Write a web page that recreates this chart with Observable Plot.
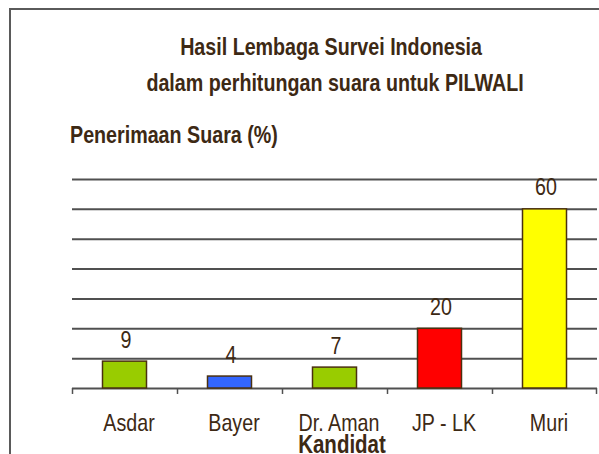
<!DOCTYPE html>
<html>
<head>
<meta charset="utf-8">
<script src="https://cdn.jsdelivr.net/npm/d3@7"></script>
<script src="https://cdn.jsdelivr.net/npm/@observablehq/plot@0.6"></script>
<style>
  body { margin: 0; background: #fff; }
  #wrap { position: relative; width: 599px; height: 454px; overflow: hidden; background: #fff;
          font-family: "Liberation Sans", Arial, sans-serif; color: #3d2914; }
  #frame { position: absolute; left: 9px; top: 8px; width: 700px; height: 600px;
           border-left: 2px solid #5a5a5a; border-top: 2px solid #5a5a5a; }
  .t { position: absolute; white-space: nowrap; line-height: 24px; font-size: 24px; font-weight: bold; }
  .t span { display: inline-block; transform: scaleX(0.82); }
  #ylabel span { transform-origin: left center; }
  #chart { position: absolute; left: 0; top: 150px; }
</style>
</head>
<body>
<div id="wrap">
  <div id="frame"></div>
  <div class="t" id="title1" style="left:0;width:662px;text-align:center;top:35px;"><span>Hasil Lembaga Survei Indonesia</span></div>
  <div class="t" id="title2" style="left:0;width:670px;text-align:center;top:71px;"><span>dalam perhitungan suara untuk PILWALI</span></div>
  <div class="t" id="ylabel" style="left:70px;top:123px;"><span>Penerimaan Suara (%)</span></div>
  <div id="chart"></div>
</div>
<script>
const candidates = ["Asdar", "Bayer", "Dr. Aman", "JP - LK", "Muri"];
const votes = [9, 4, 7, 20, 60];
const barColors = ["#99cc00", "#3366ff", "#99cc00", "#ff0000", "#ffff00"];
const gridTicks = [10, 20, 30, 40, 50, 60, 70];
const xTitle = "Kandidat";

const data = candidates.map((c, i) => ({candidate: c, value: votes[i], color: barColors[i]}));
const textColor = "#3d2914";
const font = '"Liberation Sans", Arial, sans-serif';
const band = (597 - 72) / candidates.length;

const chart = Plot.plot({
  width: 599,
  height: 304,
  marginLeft: 72,
  marginRight: 2,
  marginTop: 29,
  marginBottom: 66,
  style: {fontFamily: font, color: textColor, background: "transparent"},
  x: {domain: candidates, padding: 0, axis: null},
  y: {domain: [0, 70], axis: null},
  marks: [
    Plot.ruleY(gridTicks, {stroke: "#505050", strokeWidth: 2}),
    Plot.ruleY([0], {stroke: "#505050", strokeWidth: 2}),
    Plot.ruleX(candidates, {x: d => d, y1: 0, y2: -2, dx: -band / 2, stroke: "#505050", strokeWidth: 1.5}),
    Plot.ruleX(candidates.slice(-1), {x: d => d, y1: 0, y2: -2, dx: band / 2 - 1, stroke: "#505050", strokeWidth: 1.5}),
    Plot.barY(data, {x: "candidate", y: "value", fill: "color", stroke: "#4a3010", strokeWidth: 1.5,
      insetLeft: 30.5, insetRight: 30.5}),
    Plot.text(data, {x: "candidate", y: "value", text: d => String(d.value), dx: 1, dy: -14, lineAnchor: "bottom",
      fontSize: 24, fill: textColor}),
    Plot.text(data, {x: "candidate", y: 0, text: "candidate", dx: 4, dy: 42, lineAnchor: "bottom",
      fontSize: 24, fill: textColor}),
    Plot.text([xTitle], {frameAnchor: "bottom", text: d => d, dx: 7, dy: 64, lineAnchor: "bottom",
      fontSize: 25, fontWeight: "bold", fill: textColor})
  ]
});

// condense every text horizontally (narrow typeface look of the reference)
d3.select(chart).selectAll("text").each(function () {
  const el = this;
  let tr = el.getAttribute("transform") || "";
  const x = el.getAttribute("x"), y = el.getAttribute("y");
  if (x != null || y != null) {
    tr += ` translate(${x || 0},${y || 0})`;
    el.removeAttribute("x");
    el.removeAttribute("y");
  }
  el.setAttribute("transform", (tr + " scale(0.82,1)").trim());
});
document.getElementById("chart").appendChild(chart);
</script>
</body>
</html>
